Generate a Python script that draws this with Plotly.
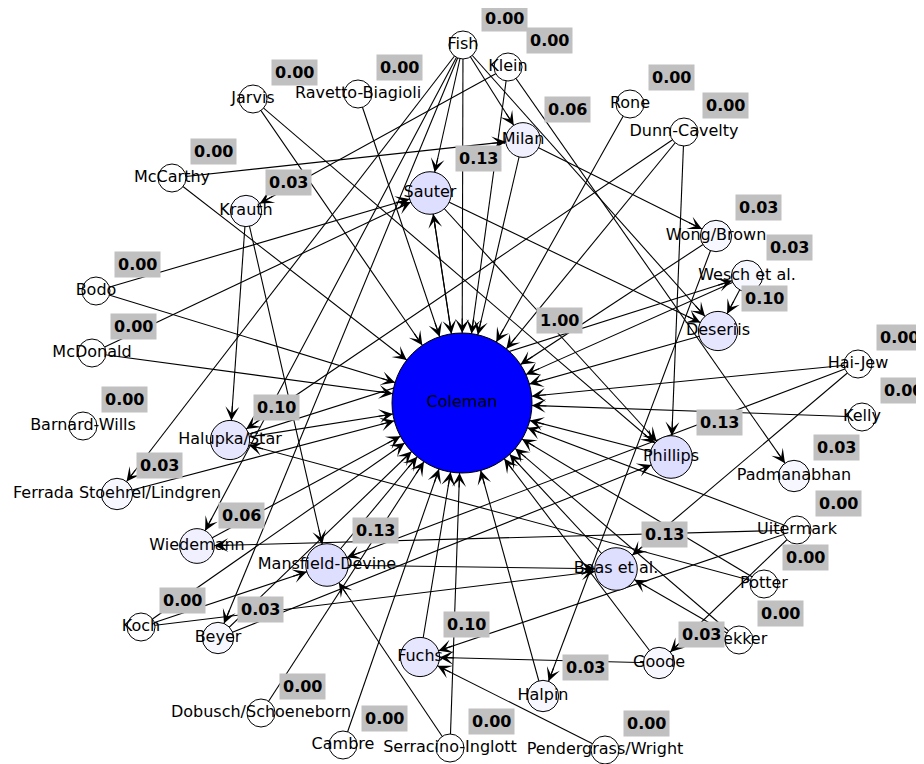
import math
import plotly.graph_objects as go

# ---------------- data ----------------
names = ["Coleman", "Fish", "Klein", "Jarvis", "Ravetto-Biagioli", "Rone", "Dunn-Cavelty",
         "Milan", "McCarthy", "Sauter", "Krauth", "Wong/Brown", "Wesch et al.", "Deseriis",
         "Bodo", "McDonald", "Hai-Jew", "Barnard-Wills", "Kelly", "Halupka/Star", "Phillips",
         "Padmanabhan", "Ferrada Stoehrel/Lindgren", "Uitermark", "Wiedemann",
         "Mansfield-Devine", "Boas et al.", "Potter", "Koch", "Beyer", "Dekker", "Fuchs",
         "Goode", "Halpin", "Dobusch/Schoeneborn", "Cambre", "Serracino-Inglott",
         "Pendergrass/Wright"]
node_x = [462, 463, 508, 253, 358, 630, 684,
          523, 172, 430, 246, 716, 747, 718,
          96, 92, 858, 83, 862, 230, 671,
          794, 117, 797, 197,
          327, 616, 764, 141, 218, 739, 420,
          659, 543, 261, 343, 450,
          605]
node_y = [403, 45, 67, 99, 94, 104, 132,
          140, 178, 193, 211, 236, 276, 331,
          291, 353, 364, 426, 417, 440, 457,
          476, 494, 530, 546,
          565, 569, 584, 627, 638, 640, 657,
          663, 696, 713, 745, 748,
          750]
scores = [1.00, 0.00, 0.00, 0.00, 0.00, 0.00, 0.00,
          0.06, 0.00, 0.13, 0.03, 0.03, 0.03, 0.10,
          0.00, 0.00, 0.00, 0.00, 0.00, 0.10, 0.13,
          0.03, 0.03, 0.00, 0.06,
          0.13, 0.13, 0.00, 0.00, 0.03, 0.00, 0.10,
          0.03, 0.03, 0.00, 0.00, 0.00,
          0.00]

edge_src = ["Fish", "Fish", "Fish", "Fish", "Fish", "Fish", "Fish",
            "Klein", "Klein", "Klein",
            "Jarvis", "Jarvis",
            "Ravetto-Biagioli", "Rone",
            "Dunn-Cavelty", "Dunn-Cavelty", "Dunn-Cavelty",
            "Milan", "Milan",
            "McCarthy", "McCarthy",
            "Sauter", "Sauter", "Sauter",
            "Coleman",
            "Krauth", "Krauth",
            "Wong/Brown", "Wong/Brown",
            "Wesch et al.", "Wesch et al.",
            "Deseriis",
            "Bodo", "Bodo",
            "McDonald", "McDonald",
            "Hai-Jew", "Hai-Jew", "Hai-Jew",
            "Kelly",
            "Halupka/Star", "Halupka/Star",
            "Phillips",
            "Ferrada Stoehrel/Lindgren",
            "Uitermark", "Uitermark", "Uitermark", "Uitermark",
            "Wiedemann",
            "Mansfield-Devine", "Mansfield-Devine",
            "Boas et al.",
            "Potter", "Potter",
            "Koch", "Koch", "Koch",
            "Beyer", "Beyer",
            "Dekker", "Dekker",
            "Fuchs",
            "Goode", "Goode",
            "Halpin",
            "Dobusch/Schoeneborn",
            "Cambre",
            "Serracino-Inglott", "Serracino-Inglott",
            "Pendergrass/Wright"]
edge_dst = ["Sauter", "Milan", "Coleman", "Deseriis", "Ferrada Stoehrel/Lindgren", "Wiedemann", "Beyer",
            "Krauth", "Coleman", "Padmanabhan",
            "Coleman", "Phillips",
            "Coleman", "Coleman",
            "Halupka/Star", "Coleman", "Phillips",
            "Coleman", "Wong/Brown",
            "Milan", "Coleman",
            "Coleman", "Deseriis", "Phillips",
            "Sauter",
            "Halupka/Star", "Mansfield-Devine",
            "Coleman", "Halpin",
            "Coleman", "Deseriis",
            "Coleman",
            "Sauter", "Coleman",
            "Sauter", "Coleman",
            "Coleman", "Mansfield-Devine", "Boas et al.",
            "Coleman",
            "Coleman", "Wesch et al.",
            "Coleman",
            "Coleman",
            "Coleman", "Fuchs", "Wiedemann", "Goode",
            "Coleman",
            "Coleman", "Boas et al.",
            "Coleman",
            "Coleman", "Halupka/Star",
            "Coleman", "Mansfield-Devine", "Boas et al.",
            "Coleman", "Phillips",
            "Coleman", "Boas et al.",
            "Coleman",
            "Coleman", "Fuchs",
            "Coleman",
            "Coleman",
            "Coleman",
            "Coleman", "Mansfield-Devine",
            "Fuchs"]

# ---------------- derived styling ----------------
PAGE_W, PAGE_H = 924, 764
BODY = 8  # default page margin of the html body
idx = {n: i for i, n in enumerate(names)}
radius = [14 + 56 * s for s in scores]
fill = ["rgb(%d,%d,255)" % (round(255 * (1 - s)), round(255 * (1 - s))) for s in scores]

ex, ey = [], []
for s, t in zip(edge_src, edge_dst):
    a, b = idx[s], idx[t]
    ex += [node_x[a], node_x[b], None]
    ey += [node_y[a], node_y[b], None]

fig = go.Figure()
fig.add_trace(go.Scatter(x=ex, y=ey, mode="lines",
                         line=dict(color="black", width=1.1),
                         hoverinfo="skip", showlegend=False))
fig.add_trace(go.Scatter(x=node_x, y=node_y, mode="markers+text",
                         text=names, textposition="middle center",
                         textfont=dict(family="DejaVu Sans", size=16, color="black"),
                         marker=dict(size=[2 * r for r in radius], color=fill,
                                     line=dict(color="black", width=1), opacity=1),
                         hoverinfo="text", showlegend=False))

annotations = []
head_len = 16
for s, t in zip(edge_src, edge_dst):
    a, b = idx[s], idx[t]
    dx = node_x[b] - node_x[a]
    dy = node_y[b] - node_y[a]
    d = math.hypot(dx, dy)
    ux, uy = dx / d, dy / d
    tipx = node_x[b] - ux * radius[b]
    tipy = node_y[b] - uy * radius[b]
    annotations.append(dict(
        x=tipx, y=tipy, ax=tipx - ux * head_len, ay=tipy - uy * head_len,
        xref="x", yref="y", axref="x", ayref="y", text="", showarrow=True,
        arrowhead=3, arrowsize=2.1, arrowwidth=1.1, arrowcolor="black", standoff=0))

for i, n in enumerate(names):
    annotations.append(dict(
        x=node_x[i] + radius[i] + 27, y=node_y[i] - radius[i] - 13,
        xref="x", yref="y", text="<b>%.2f</b>" % scores[i], showarrow=False,
        font=dict(family="DejaVu Sans", size=16, color="black"),
        bgcolor="#c0c0c0", borderpad=3))

fig.update_layout(
    width=PAGE_W - BODY, height=PAGE_H - BODY, margin=dict(l=0, r=0, t=0, b=0),
    paper_bgcolor="white", plot_bgcolor="white",
    xaxis=dict(range=[BODY, PAGE_W], visible=False, fixedrange=True),
    yaxis=dict(range=[PAGE_H, BODY], visible=False, fixedrange=True),
    annotations=annotations, showlegend=False)

fig.write_html("out.html")
